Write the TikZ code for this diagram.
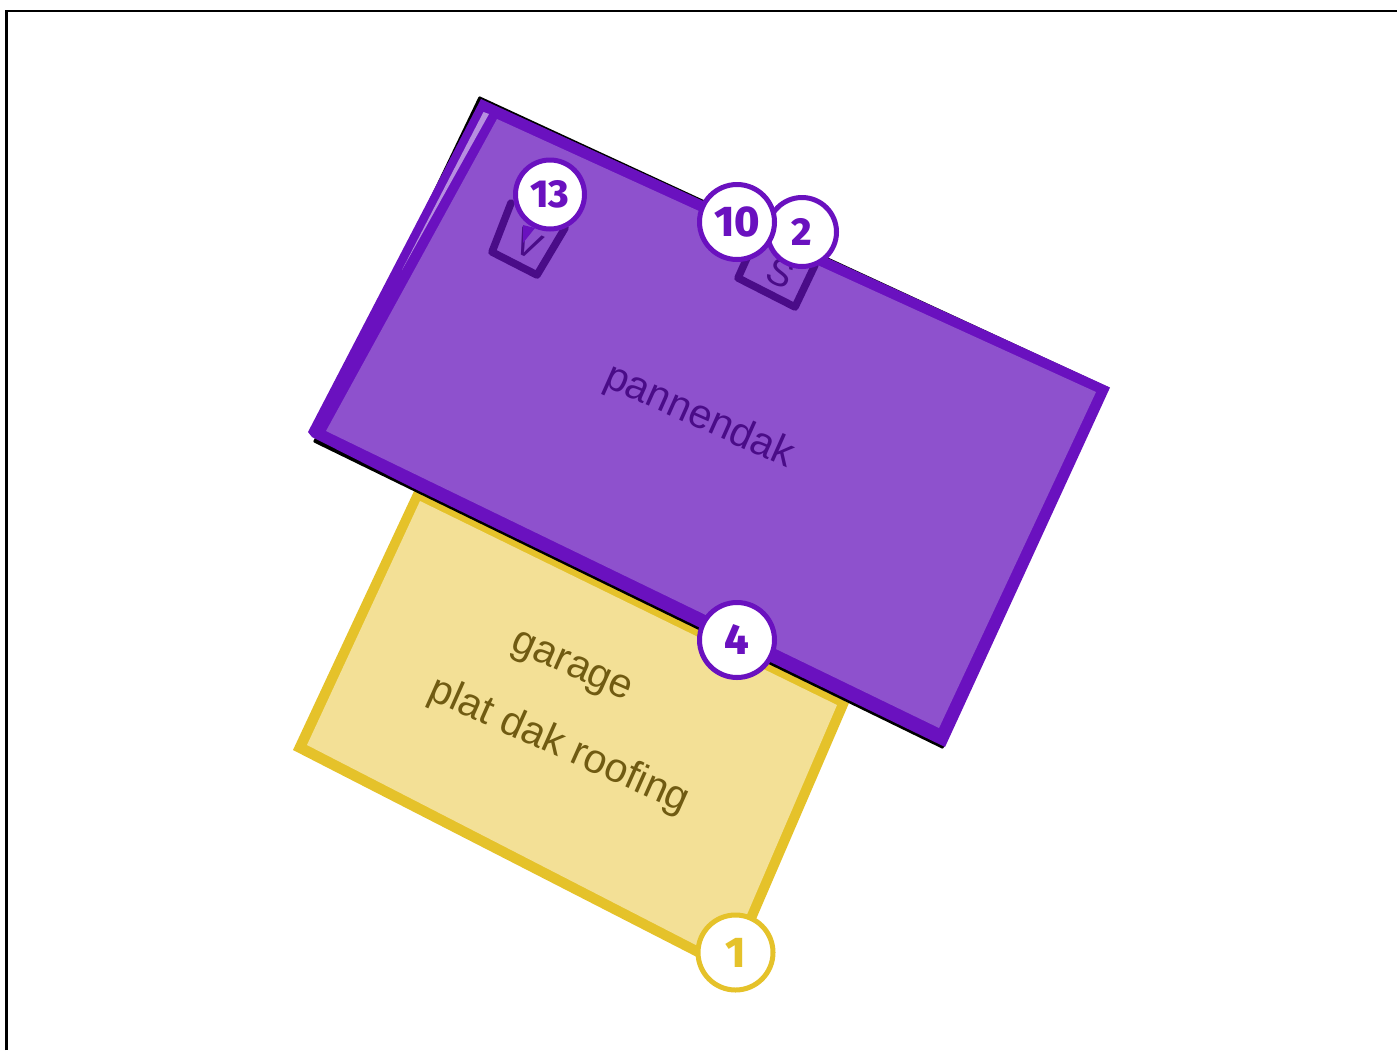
\documentclass[tikz,border=0pt]{standalone}
\usepackage{fontspec}
\setmainfont{Liberation Sans}
\newfontfamily\numfont{Fira Sans}[BoldFont={Fira Sans ExtraBold}]
\definecolor{pborder}{HTML}{6A11BF}
\definecolor{pfill}{HTML}{8E51CD}
\definecolor{pdark}{HTML}{4A0C88}
\definecolor{plight}{HTML}{B78FE0}
\definecolor{yborder}{HTML}{E5C22A}
\definecolor{yfill}{HTML}{F3E096}
\definecolor{ytext}{HTML}{705B12}
\tikzset{
  x=1pt,y=-1pt,
  badge/.style={circle,draw=#1,fill=white,line width=5pt,inner sep=0pt,text=#1},
  bigbadge/.style={badge=#1,minimum size=75pt,font=\numfont\bfseries\fontsize{43}{43}\selectfont},
  smallbadge/.style={badge=#1,minimum size=69pt,font=\numfont\bfseries\fontsize{39}{39}\selectfont},
  roomlabel/.style={font=\fontsize{41}{41}\selectfont,inner sep=0pt,rotate=-24},
  boxletter/.style={text=pdark,rotate=-25,font=\fontsize{38}{38}\selectfont,inner sep=0pt},
  boxline/.style={pdark,line width=7.5pt,line join=round,line cap=round},
}
\begin{document}
\begin{tikzpicture}
\useasboundingbox (0,0) rectangle (1397,1050);
\draw[line width=2.6pt,black] (6.5,1050) -- (6.5,11) -- (1397,11);
% garage
\fill[yborder] (415,489) -- (849,703) -- (732,975) -- (293,750) -- cycle;
\fill[yfill] (420,501) -- (837,705) -- (727,961) -- (307,745) -- cycle;
% roof shadow
\fill[black,rounded corners=1pt] (479,96) -- (1109,387.5) -- (943,749) -- (313,442) -- cycle;
% roof
\fill[pborder] (481,99) -- (1110,387.5) -- (945,747) -- (413,488) -- (312,437) -- (308,432) -- cycle;
\fill[pfill] (497,119) -- (1096,392) -- (939,728) -- (326,431) -- cycle;
\fill[plight] (483.5,112) -- (489,114) -- (402,270) -- cycle;
% skylights
\draw[boxline] (511,203) -- (492,252) -- (537,275) -- (565,228);
\node[boxletter] (vlabel) at (529,244) {V};
\draw[boxline] (755,240) -- (738,278) -- (795,307) -- (815,265);
\node[boxletter] (slabel) at (781,273) {S};
% labels
\node[roomlabel,text=pdark] (roof) at (699,417) {pannendak};
\node[roomlabel,text=ytext] (garage) at (571,669) {garage};
\node[roomlabel,text=ytext] (plat) at (559,746) {plat dak roofing};
% badges
\node[smallbadge=pborder] (b13) at (550,194.5) {13};
\fill[pborder] (523,225) -- (535,228) -- (523,243) -- cycle;
\node[smallbadge=pborder] (b2) at (802,232) {2};
\node[bigbadge=pborder] (b10) at (737,222) {10};
\node[bigbadge=pborder] (b4) at (737,640) {4};
\node[bigbadge=yborder] (b1) at (735.5,952.5) {1};
\end{tikzpicture}
\end{document}
